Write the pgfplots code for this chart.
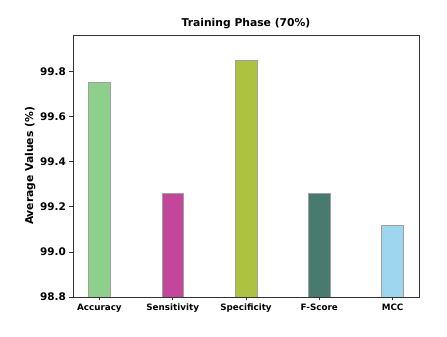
\documentclass[border=0pt]{standalone}
\usepackage{pgfplots}
\pgfplotsset{compat=1.18}
\usepackage{fontspec}
\setmainfont{DejaVu Sans}
\definecolor{cAcc}{HTML}{8ED08B}
\definecolor{cSen}{HTML}{C2479A}
\definecolor{cSpe}{HTML}{ADC241}
\definecolor{cFsc}{HTML}{487A70}
\definecolor{cMcc}{HTML}{9ED6F0}
\definecolor{cEdge}{HTML}{A0A0A0}
\begin{document}
\begin{tikzpicture}
  \path[use as bounding box] (0,0) rectangle (447bp,337bp);
  \begin{axis}[
    at={(73bp,40bp)}, anchor=south west,
    scale only axis, width=346bp, height=262bp,
    xmin=-0.36, xmax=4.36, ymin=98.8, ymax=99.962,
    xtick={0,1,2,3,4},
    xticklabels={Accuracy,Sensitivity,Specificity,F-Score,MCC},
    ytick={98.8,99.0,99.2,99.4,99.6,99.8},
    yticklabel style={font=\fontsize{10.5}{12}\selectfont\bfseries,
      /pgf/number format/fixed, /pgf/number format/precision=1,
      /pgf/number format/fixed zerofill, /pgf/number format/assume math mode=true},
    xticklabel style={font=\fontsize{8.8}{10}\selectfont\bfseries},
    tick align=outside, xtick pos=bottom, ytick pos=left,
    major tick length=3.5bp,
    axis line style={black!80, line width=0.8pt},
    tick style={black!80, line width=0.8pt},
    title={Training Phase (70\%)},
    title style={font=\fontsize{10.8}{12}\selectfont\bfseries, yshift=-3bp},
    ylabel={Average Values (\%)},
    ylabel style={font=\fontsize{10.8}{12}\selectfont\bfseries, yshift=-2bp},
    bar width=0.3, ybar, bar shift=0pt,
  ]
    \addplot[fill=cAcc, draw=cEdge] coordinates {(0,99.752)};
    \addplot[fill=cSen, draw=cEdge] coordinates {(1,99.26)};
    \addplot[fill=cSpe, draw=cEdge] coordinates {(2,99.85)};
    \addplot[fill=cFsc, draw=cEdge] coordinates {(3,99.26)};
    \addplot[fill=cMcc, draw=cEdge] coordinates {(4,99.12)};
  \end{axis}
\end{tikzpicture}
\end{document}
